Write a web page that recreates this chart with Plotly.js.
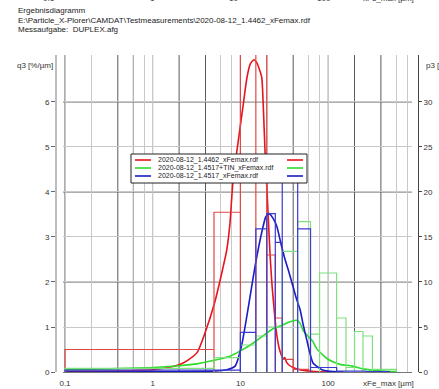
<!DOCTYPE html>
<html><head><meta charset="utf-8">
<script src="https://cdn.plot.ly/plotly-3.0.1.min.js"></script>
<style>html,body{margin:0;padding:0;background:#fff;overflow:hidden}</style>
</head><body><div id="chart" style="width:439px;height:389px"></div>
<script>
// ---------------- data ----------------
const seriesNames = [
  "2020-08-12_1.4462_xFemax.rdf",
  "2020-08-12_1.4517+TIN_xFemax.rdf",
  "2020-08-12_1.4517_xFemax.rdf"
];
const seriesColors = ["#e8141c", "#2ddc2d", "#1c1cc4"];
const histColors = ["#e04848", "#7fe07f", "#3a3ad0"];

// q3 density curves (left axis, %/µm)
const redX  = [0.1,0.2,0.4,0.7,1,1.5,2,2.5,3.2,4,5.1,6.3,7,7.6,8.2,9.1,10.7,11.9,13,14.3,15.3,16.3,17.5,18.2,19.1,19.8,20.6,21.8,23,24.5,25.5,27.5,29,30.6,32,33.5,36,40,45,55,70,100];
const redQ3 = [0.01,0.015,0.02,0.035,0.05,0.1,0.16,0.26,0.43,0.9,1.55,2.3,2.72,3.3,4.2,4.9,5.9,6.55,6.85,6.94,6.88,6.75,6.55,5.95,4.9,4.3,3.6,2.6,1.9,1.3,0.95,0.55,0.4,0.3,0.32,0.22,0.15,0.1,0.06,0.03,0.01,0.0];

const greenX  = [0.1,0.2,0.5,1,2,3.2,5,7.6,10,13,15.4,18,23,28.4,33,37.5,44,48,52,60,67,74,85,97,115,137,190,250,330,420,600];
const greenQ3 = [0.05,0.06,0.08,0.1,0.14,0.18,0.26,0.35,0.47,0.6,0.7,0.8,0.95,1.02,1.08,1.12,1.15,1.08,0.92,0.78,0.68,0.52,0.4,0.3,0.22,0.17,0.13,0.07,0.04,0.02,0.01];

const blueX  = [0.1,1,3,5,7,8.7,10.3,12.2,14.7,17.5,19.5,21.2,23.5,26,29,32.3,36,39.8,44,47.9,52,57,62,67.3,74,85,100,150];
const blueQ3 = [0.0,0.005,0.01,0.02,0.05,0.13,0.58,1.39,2.35,3.1,3.45,3.52,3.42,3.24,2.85,2.5,2.2,1.9,1.6,1.39,1.05,0.72,0.42,0.2,0.13,0.05,0.02,0.0];

// p3 class histograms (right axis, %)
const redEdges  = [0.1,5,10,15,20,25,30,40,60];
const redP3     = [2.5,17.75,40,38,13,6,1.4,0.3];
const greenEdges = [0.1,5,10,15,20,30,45,63,80,125,160,200,250,320,600];
const greenP3    = [0.4,1.6,3.0,4.0,5.0,13.4,16.7,4.2,11,6,0.5,4.5,4.0,0.3];
const blueEdges = [0.1,10,15,20,25,30,45,63,125,270,500];
const blueP3    = [0.2,4.4,15.9,17.6,14.4,22.5,15.9,0.5,0.1,0.05];

// axes
const xTickVals = [0.1,1,10,100];
const xTickText = ["0.1","1","10","100"];
const xLightGrid = [0.2,0.8,6,8,60,80,600,800];
const xMidGrid = [0.6,1,10,20,100];
const xDarkGrid = [0.1,0.4,2,4,40,200,400];
const yLeftTicks = [0,1,2,3,4,5,6];
const yDarkGrid = [2,4,6];
const yRightTicks = [0,5,10,15,20,25,30];
const topAxisLabels = ["0.1","1","10","100","xFe_max [µm]"];
const headerLines = ["Ergebnisdiagramm",
  "E:\\Particle_X-Plorer\\CAMDAT\\Testmeasurements\\2020-08-12_1.4462_xFemax.rdf",
  "Messaufgabe:  DUPLEX.afg"];

// ---------------- layout geometry ----------------
const W = 439, H = 389;
const M = {l:56, r:21, t:55, b:17};
const PW = W - M.l - M.r, PH = H - M.t - M.b;
const xDomain = [7/PW, (412-M.l)/PW];
const xRange = [-1.0228, 2.9567];
const yRange = [0, 7.044];
const y2Range = [0, 35.22];
const px2x = px => (px - M.l) / PW;
const py2y = py => (H - M.b - py) / PH;

function histPath(edges, vals) {
  const x = [edges[0]], y = [0];
  for (let i = 0; i < vals.length; i++) {
    x.push(edges[i], edges[i+1], edges[i+1]);
    y.push(vals[i], vals[i], 0);
  }
  return {x, y};
}

const traces = [];
[[redEdges, redP3], [greenEdges, greenP3], [blueEdges, blueP3]].forEach((h, i) => {
  const p = histPath(h[0], h[1]);
  traces.push({x: p.x, y: p.y, type: 'scatter', mode: 'lines', yaxis: 'y2',
    line: {color: histColors[i], width: 1.2}, hoverinfo: 'skip', showlegend: false});
});
[[redX, redQ3], [greenX, greenQ3], [blueX, blueQ3]].forEach((c, i) => {
  traces.push({x: c[0], y: c[1], type: 'scatter', mode: 'lines', name: seriesNames[i],
    line: {color: seriesColors[i], width: 1.6, shape: 'spline', smoothing: 0.6}, showlegend: false});
});

// grid shapes
const shapes = [];
const xLo = Math.pow(10, xRange[0]), xHi = Math.pow(10, xRange[1]);
xMidGrid.forEach(v => shapes.push({type:'line', xref:'x', yref:'y', x0:v, x1:v, y0:yRange[0], y1:yRange[1], layer:'below', line:{color:'#999', width:1}}));
xDarkGrid.forEach(v => shapes.push({type:'line', xref:'x', yref:'y', x0:v, x1:v, y0:yRange[0], y1:yRange[1], layer:'below', line:{color:'#5a5a5a', width:1}}));
yDarkGrid.forEach(v => shapes.push({type:'line', xref:'x', yref:'y', x0:xLo, x1:xHi, y0:v, y1:v, layer:'below', line:{color:'#5a5a5a', width:1}}));

// custom legend
const lg = {x0:131, x1:307, y0:154, y1:183, rows:[160,168,176]};
shapes.push({type:'rect', xref:'paper', yref:'paper', x0:px2x(lg.x0), x1:px2x(lg.x1), y0:py2y(lg.y1), y1:py2y(lg.y0),
  fillcolor:'#fff', line:{color:'#222', width:1}, layer:'above'});
const annotations = [];
seriesNames.forEach((n, i) => {
  const yy = py2y(lg.rows[i]);
  shapes.push({type:'line', xref:'paper', yref:'paper', x0:px2x(135), x1:px2x(151), y0:yy, y1:yy, layer:'above', line:{color:seriesColors[i], width:1.6}});
  shapes.push({type:'line', xref:'paper', yref:'paper', x0:px2x(287), x1:px2x(303), y0:yy, y1:yy, layer:'above', line:{color:seriesColors[i], width:1.6}});
  annotations.push({xref:'paper', yref:'paper', x:px2x(157), y:yy, xanchor:'left', yanchor:'middle', showarrow:false,
    text:n, font:{size:7, color:'#222', family:'Liberation Sans, Arial, sans-serif'}, borderpad:0});
});

// header texts
headerLines.forEach((t, i) => {
  annotations.push({xref:'paper', yref:'paper', x:px2x(16), y:py2y([11,20.5,29.5][i]), xanchor:'left', yanchor:'middle',
    showarrow:false, text:t, font:{size:8, color:'#222', family:'Liberation Sans, Arial, sans-serif'}});
});
// clipped top axis row
[49,152,233,324,388].forEach((px, i) => {
  annotations.push({xref:'paper', yref:'paper', x:px2x(px), y:py2y(-1.5), xanchor:'center', yanchor:'middle',
    showarrow:false, text:topAxisLabels[i], font:{size:8, color:'#333', family:'Liberation Sans, Arial, sans-serif'}});
});
// axis titles
annotations.push({xref:'paper', yref:'paper', x:px2x(55), y:py2y(65), xanchor:'right', yanchor:'middle', showarrow:false,
  text:'q3 [%/µm]', font:{size:8, color:'#333', family:'Liberation Sans, Arial, sans-serif'}});
annotations.push({xref:'paper', yref:'paper', x:px2x(424), y:py2y(65), xanchor:'left', yanchor:'middle', showarrow:false,
  text:'p3 [%]', font:{size:8, color:'#333', family:'Liberation Sans, Arial, sans-serif'}});
annotations.push({xref:'paper', yref:'paper', x:px2x(388), y:py2y(383), xanchor:'center', yanchor:'middle', showarrow:false,
  text:'xFe_max [µm]', font:{size:8, color:'#333', family:'Liberation Sans, Arial, sans-serif'}});

const tickFont = {size:8, color:'#333', family:'Liberation Sans, Arial, sans-serif'};
const layout = {
  width: W, height: H, margin: M, paper_bgcolor:'#fff', plot_bgcolor:'#fff', showlegend:false,
  xaxis: {type:'log', range:xRange, domain:xDomain, tickmode:'array', tickvals:xTickVals, ticktext:xTickText,
    ticks:'', showline:true, linecolor:'#777', linewidth:1, showgrid:true, gridcolor:'#c8c8c8', gridwidth:1,
    zeroline:false, tickfont:tickFont, ticklabelstandoff:3, automargin:false,
    minor:{tickmode:'array', tickvals:xLightGrid, showgrid:true, gridcolor:'#c8c8c8', gridwidth:1, ticks:''}},
  yaxis: {range:yRange, anchor:'free', position:0, tickmode:'array', tickvals:yLeftTicks, ticks:'outside', ticklen:4,
    tickcolor:'#666', showline:true, linecolor:'#bdbdbd', linewidth:2, showgrid:true, gridcolor:'#c8c8c8',
    zeroline:false, tickfont:tickFont, automargin:false},
  yaxis2: {range:y2Range, overlaying:'y', side:'right', anchor:'free', position:1, tickmode:'array', tickvals:yRightTicks,
    ticks:'outside', ticklen:3, tickcolor:'#444', showline:true, linecolor:'#444', linewidth:1, showgrid:false,
    zeroline:false, tickfont:tickFont, automargin:false},
  shapes, annotations
};
Plotly.newPlot('chart', traces, layout, {staticPlot:true, displayModeBar:false});
</script></body></html>
